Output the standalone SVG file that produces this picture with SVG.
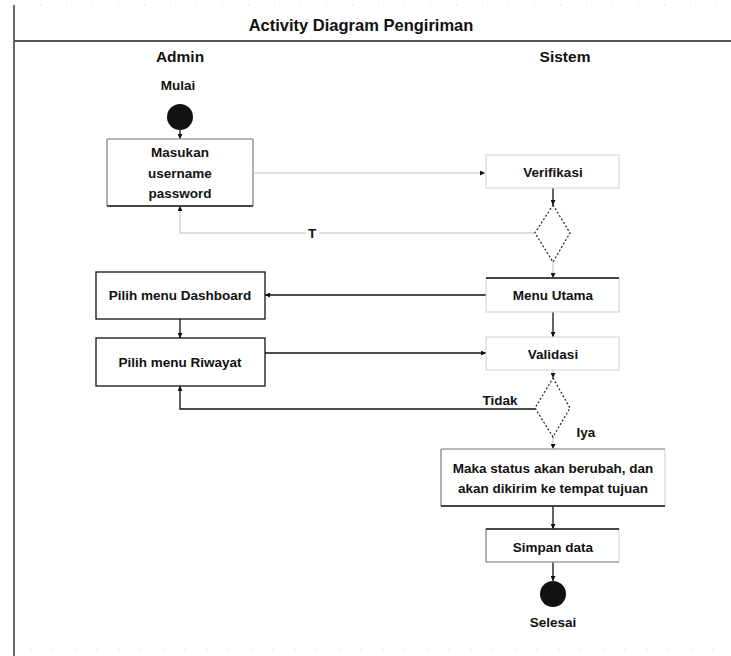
<svg xmlns="http://www.w3.org/2000/svg" width="731" height="656" viewBox="0 0 731 656">
<style>
text{font-family:"Liberation Sans",Arial,sans-serif;font-weight:bold;fill:#111;text-anchor:middle;font-size:13.5px}
.hdr{font-size:15.5px}
.ttl{font-size:16.5px}
.light{fill:#fff;stroke:#cfcfcf;stroke-width:1}
.box{fill:#fff;stroke:#111;stroke-width:1.3}
.edge{fill:none;stroke:#111;stroke-width:1.3}
.faint{fill:none;stroke:#bdbdbd;stroke-width:1}
.dark{stroke:#111;stroke-width:1.6}
.gray{stroke:#8a8a8a;stroke-width:1.2}
.dia{fill:#fff;stroke:#222;stroke-width:1.2;stroke-dasharray:2 2}
</style>
<defs>
<marker id="ah" viewBox="0 0 6 6" refX="6" refY="3" markerWidth="5" markerHeight="5" orient="auto" markerUnits="userSpaceOnUse">
<path d="M0,0 L6,3 L0,6 z" fill="#111"/>
</marker>
</defs>
<rect width="731" height="656" fill="#fff"/>
<g id="frame">
<line x1="14" y1="5" x2="731" y2="5" stroke="#c8c8c8" stroke-width="1" stroke-dasharray="1 25"/>
<line x1="30" y1="650" x2="731" y2="650" stroke="#e0e0e0" stroke-width="1" stroke-dasharray="2 20"/>
<line x1="14" y1="5" x2="14" y2="656" stroke="#6a6a6a" stroke-width="2"/>
<line x1="14" y1="41" x2="731" y2="41" stroke="#555" stroke-width="2"/>
<text class="ttl" x="361" y="31">Activity Diagram Pengiriman</text>
<text class="hdr" x="180" y="62">Admin</text>
<text class="hdr" x="565" y="62">Sistem</text>
</g>
<g id="connectors">
<line class="edge" x1="180" y1="130" x2="180" y2="139" marker-end="url(#ah)"/>
<line class="faint" x1="253" y1="173" x2="485" y2="173" marker-end="url(#ah)"/>
<line class="edge" x1="553" y1="188" x2="553" y2="205" marker-end="url(#ah)"/>
<polyline class="faint" points="535,233 180,233 180,206" marker-end="url(#ah)"/>
<line class="faint" x1="553" y1="262" x2="553" y2="278" marker-end="url(#ah)"/>
<line class="edge" x1="486" y1="295" x2="265" y2="295" marker-end="url(#ah)"/>
<line class="edge" x1="180" y1="319" x2="180" y2="338" marker-end="url(#ah)"/>
<line class="edge" x1="553" y1="312" x2="553" y2="337" marker-end="url(#ah)"/>
<line class="edge" x1="265" y1="353" x2="486" y2="353" marker-end="url(#ah)"/>
<line class="faint" x1="553" y1="370" x2="553" y2="378" marker-end="url(#ah)"/>
<polyline class="edge" points="535,409 180,409 180,386" marker-end="url(#ah)"/>
<line class="faint" x1="553" y1="437" x2="553" y2="449" marker-end="url(#ah)"/>
<line class="edge" x1="553" y1="506" x2="553" y2="529" marker-end="url(#ah)"/>
<line class="edge" x1="553" y1="562" x2="553" y2="581" marker-end="url(#ah)"/>
<rect x="306" y="226" width="13" height="14" fill="#fff"/>
<text x="312" y="238">T</text>
<text x="500" y="405">Tidak</text>
<text x="586" y="437">Iya</text>
</g>
<g id="start">
<text x="178" y="90">Mulai</text>
<circle cx="180" cy="117" r="13" fill="#111"/>
</g>
<g id="masukan">
<rect class="light" x="107" y="139" width="146" height="67"/>
<line class="gray" x1="107" y1="139" x2="253" y2="139"/>
<line class="gray" x1="107" y1="139" x2="107" y2="206"/>
<line class="gray" x1="253" y1="139" x2="253" y2="206"/>
<line class="dark" x1="107" y1="206" x2="253" y2="206"/>
<text x="180" y="157">Masukan</text>
<text x="180" y="178">username</text>
<text x="180" y="198">password</text>
</g>
<g id="verifikasi">
<rect class="light" x="486" y="155" width="133" height="33"/>
<text x="553" y="177">Verifikasi</text>
</g>
<g id="decision1">
<polygon class="dia" points="553,205 570,233 553,262 535,233"/>
</g>
<g id="menuutama">
<rect class="light" x="486" y="278" width="133" height="34"/>
<line class="dark" x1="486" y1="278" x2="619" y2="278"/>
<text x="553" y="300">Menu Utama</text>
</g>
<g id="dashboard">
<rect class="box" x="96" y="272" width="169" height="47"/>
<text x="180" y="300">Pilih menu Dashboard</text>
</g>
<g id="riwayat">
<rect class="box" x="96" y="338" width="169" height="48"/>
<text x="180" y="367">Pilih menu Riwayat</text>
</g>
<g id="validasi">
<rect class="light" x="486" y="337" width="133" height="33"/>
<text x="553" y="359">Validasi</text>
</g>
<g id="decision2">
<polygon class="dia" points="553,378 570,408 553,437 535,408"/>
</g>
<g id="status">
<rect class="light" x="441" y="449" width="224" height="57"/>
<line class="gray" x1="441" y1="449" x2="665" y2="449"/>
<line class="gray" x1="441" y1="449" x2="441" y2="506"/>
<line class="dark" x1="441" y1="506" x2="665" y2="506"/>
<text x="553" y="473">Maka status akan berubah, dan</text>
<text x="553" y="493">akan dikirim ke tempat tujuan</text>
</g>
<g id="simpan">
<rect class="light" x="486" y="529" width="133" height="33"/>
<line class="gray" x1="486" y1="529" x2="486" y2="562"/>
<line class="gray" x1="486" y1="562" x2="619" y2="562"/>
<line class="dark" x1="486" y1="529" x2="619" y2="529"/>
<text x="553" y="552">Simpan data</text>
</g>
<g id="end">
<circle cx="553" cy="594" r="13" fill="#111"/>
<text x="553" y="627">Selesai</text>
</g>
</svg>
